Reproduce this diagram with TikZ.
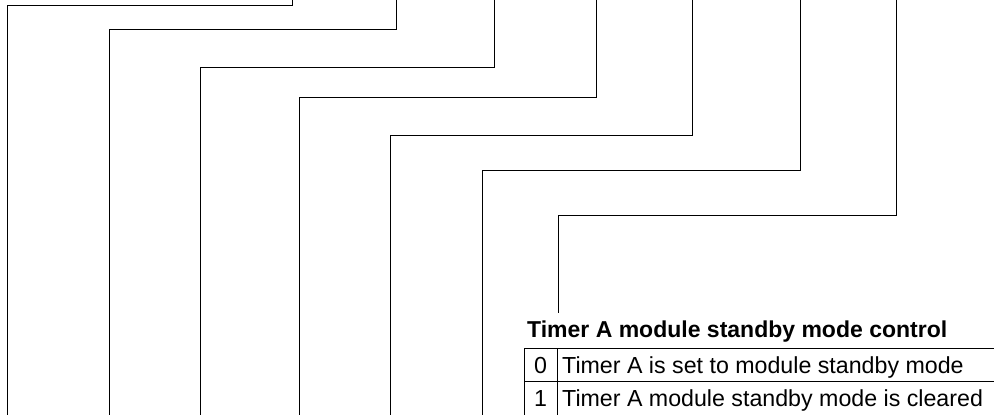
\documentclass[tikz,border=0pt]{standalone}
\usepackage{fontspec}
\setmainfont{Liberation Sans}
\usetikzlibrary{positioning}

\begin{document}
\begin{tikzpicture}[x=1pt, y=-1pt,
        bitline/.style={draw=black, line width=0.9pt},
        tabline/.style={draw=black, line width=0.9pt},
        title/.style={inner sep=0pt, anchor=base west, font=\fontsize{23}{26}\selectfont\bfseries},
        cell/.style={inner sep=0pt, anchor=base west, font=\fontsize{23.2}{26}\selectfont}
      ]
\useasboundingbox (0,0) rectangle (994,415);

% bit lines: top end, bend, bottom end
\coordinate (top1) at (292,0);  \coordinate (bend1) at (7,5);    \coordinate (bot1) at (7,415);
\coordinate (top2) at (396,0);  \coordinate (bend2) at (109,29); \coordinate (bot2) at (109,415);
\coordinate (top3) at (494,0);  \coordinate (bend3) at (200,67); \coordinate (bot3) at (200,415);
\coordinate (top4) at (596,0);  \coordinate (bend4) at (299,97); \coordinate (bot4) at (299,415);
\coordinate (top5) at (692,0);  \coordinate (bend5) at (390,135); \coordinate (bot5) at (390,415);
\coordinate (top6) at (800,0);  \coordinate (bend6) at (482,170); \coordinate (bot6) at (482,415);
\coordinate (top7) at (896,0);  \coordinate (bend7) at (558,215); \coordinate (bot7) at (558,313);

\draw[bitline] (top1) |- (bend1) -- (bot1);
\draw[bitline] (top2) |- (bend2) -- (bot2);
\draw[bitline] (top3) |- (bend3) -- (bot3);
\draw[bitline] (top4) |- (bend4) -- (bot4);
\draw[bitline] (top5) |- (bend5) -- (bot5);
\draw[bitline] (top6) |- (bend6) -- (bot6);
\draw[bitline] (top7) |- (bend7) -- (bot7);

% table
\node[title] (head) at (527,337) {Timer A module standby mode control};

\coordinate (tl) at (524,348);  \coordinate (tr) at (994,348);
\coordinate (ml) at (524,381);  \coordinate (mr) at (994,381);
\coordinate (bl) at (524,415);  \coordinate (dt) at (557,348);
\coordinate (db) at (557,415);

\draw[tabline] (tl) -- (tr);
\draw[tabline] (ml) -- (mr);
\draw[tabline] (tl) -- (bl);
\draw[tabline] (dt) -- (db);

\node[cell, anchor=base] (val0) at (540.5,373) {0};
\node[cell, anchor=base] (val1) at (540.5,406) {1};
\node[cell] (txt0) at (562,373) {Timer A is set to module standby mode};
\node[cell] (txt1) at (562,406) {Timer A module standby mode is cleared};

\end{tikzpicture}
\end{document}
